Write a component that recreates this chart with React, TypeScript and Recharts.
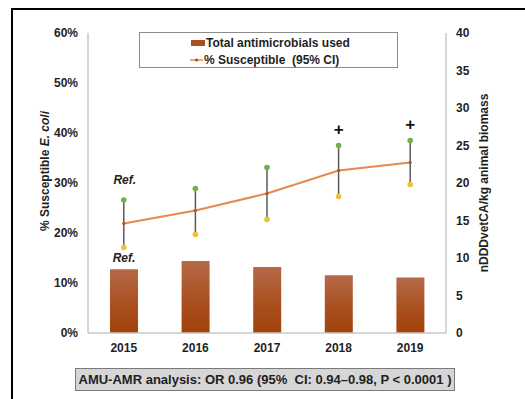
import React from "react";
import {
  ComposedChart,
  Bar,
  Line,
  XAxis,
  YAxis,
  ErrorBar,
  LabelList,
  Legend,
} from "recharts";

const years = ["2015", "2016", "2017", "2018", "2019"];
const amuUse = [8.5, 9.6, 8.8, 7.7, 7.4];
const pctSusceptible = [21.9, 24.5, 27.9, 32.5, 34.1];
const ciUpper = [26.6, 28.9, 33.1, 37.5, 38.5];
const ciLower = [17.1, 19.7, 22.7, 27.3, 29.7];
const ciNotes = ["Ref.", "", "", "+", "+"];
const barNotes = ["Ref.", "", "", "", ""];
const pctTicks = [0, 10, 20, 30, 40, 50, 60];
const amuTicks = [0, 5, 10, 15, 20, 25, 30, 35, 40];

const data = years.map((year, i) => ({
  year,
  amu: amuUse[i],
  pct: pctSusceptible[i],
  upper: ciUpper[i],
  lower: ciLower[i],
  ci: [pctSusceptible[i] - ciLower[i], ciUpper[i] - pctSusceptible[i]],
  ciNote: ciNotes[i],
  barNote: barNotes[i],
}));

const FONT = '"Liberation Sans", Arial, sans-serif';
const AXIS_GREY = "#c9c9c9";
const TEXT = "#1f1f1f";

const tickStyle = { fontSize: 12, fontWeight: 700, fill: TEXT, fontFamily: FONT };

const CiNote = (props: any) => {
  const { x, y, value } = props;
  if (!value) return null;
  if (value === "+") {
    return (
      <text x={x} y={y - 16} textAnchor="middle" dominantBaseline="central"
        fontSize={17} fontWeight={700} fill="#111" fontFamily={FONT}>
        +
      </text>
    );
  }
  return (
    <text x={x + 1} y={y - 20} textAnchor="middle" dominantBaseline="central"
      fontSize={12} fontWeight={700} fontStyle="italic" fill="#222" fontFamily={FONT}>
      {value}
    </text>
  );
};

const BarNote = (props: any) => {
  const { x, y, width, value } = props;
  if (!value) return null;
  return (
    <text x={x + width / 2} y={y - 11} textAnchor="middle" dominantBaseline="central"
      fontSize={12} fontWeight={700} fontStyle="italic" fill="#222" fontFamily={FONT}>
      {value}
    </text>
  );
};

const LeftLabel = (props: any) => {
  const { viewBox } = props;
  const cx = viewBox.x + 45;
  const cy = viewBox.y + viewBox.height / 2 - 12;
  return (
    <text x={cx} y={cy} transform={`rotate(-90 ${cx} ${cy})`} textAnchor="middle"
      dominantBaseline="central" fontSize={12} fontWeight={700} fill={TEXT} fontFamily={FONT}>
      % Susceptible <tspan fontStyle="italic">E. coli</tspan>
    </text>
  );
};

const RightLabel = (props: any) => {
  const { viewBox } = props;
  const cx = viewBox.x + 38;
  const cy = viewBox.y + viewBox.height / 2;
  return (
    <text x={cx} y={cy} transform={`rotate(-90 ${cx} ${cy})`} textAnchor="middle"
      dominantBaseline="central" fontSize={12} fontWeight={700} fill={TEXT} fontFamily={FONT}>
      nDDDvetCA/kg animal biomass
    </text>
  );
};

const LegendBox = () => (
  <div
    style={{
      width: 257,
      height: 34,
      border: "1px solid #8c8c8c",
      background: "#fff",
      fontFamily: FONT,
      fontSize: 12,
      fontWeight: 700,
      color: TEXT,
      position: "relative",
    }}
  >
    <div style={{ position: "absolute", left: 51, top: 2, display: "flex", alignItems: "center", height: 16 }}>
      <svg width={14} height={6} style={{ marginRight: 1 }}>
        <rect x={0} y={0} width={14} height={6} fill="#a9501f" />
      </svg>
      <span>Total antimicrobials used</span>
    </div>
    <div style={{ position: "absolute", left: 50, top: 19, display: "flex", alignItems: "center", height: 16 }}>
      <svg width={13} height={6} style={{ marginRight: 1 }}>
        <line x1={0} y1={3} x2={13} y2={3} stroke="#e58a4f" strokeWidth={1.5} />
        <circle cx={6.5} cy={3} r={1.5} fill="#b4501f" />
      </svg>
      <span style={{ whiteSpace: "pre" }}>% Susceptible  (95% CI)</span>
    </div>
  </div>
);

export default function App() {
  return (
    <div
      style={{
        position: "absolute",
        left: 0,
        top: 0,
        width: 525,
        height: 399,
        overflow: "hidden",
        background: "#fff",
      }}
    >
      <div
        style={{
          position: "absolute",
          left: 11,
          top: 8,
          width: 700,
          height: 600,
          border: "2px solid #000",
        }}
      />
      <div style={{ position: "absolute", left: 0, top: 0 }}>
        <ComposedChart
          width={525}
          height={399}
          data={data}
          margin={{ top: 33, right: 29, bottom: 36, left: 0 }}
        >
          <defs>
            <linearGradient id="amuFill" x1="0" y1="0" x2="0" y2="1">
              <stop offset="0%" stopColor="#b56a48" />
              <stop offset="55%" stopColor="#a9501f" />
              <stop offset="100%" stopColor="#a3410a" />
            </linearGradient>
          </defs>
          <XAxis
            dataKey="year"
            axisLine={{ stroke: AXIS_GREY, strokeWidth: 1.5 }}
            tickLine={false}
            tickSize={6}
            tickMargin={4}
            height={30}
            tick={tickStyle}
          />
          <YAxis
            yAxisId="left"
            domain={[0, 60]}
            ticks={pctTicks}
            tickFormatter={(v) => `${v}%`}
            axisLine={{ stroke: AXIS_GREY, strokeWidth: 1.5 }}
            tickLine={false}
            tickSize={6}
            tickMargin={4}
            width={88}
            tick={tickStyle}
            label={<LeftLabel />}
          />
          <YAxis
            yAxisId="right"
            orientation="right"
            domain={[0, 40]}
            ticks={amuTicks}
            axisLine={{ stroke: AXIS_GREY, strokeWidth: 1.5 }}
            tickLine={false}
            tickSize={6}
            tickMargin={4}
            width={50}
            tick={{ ...tickStyle, textAnchor: "start" }}
            label={<RightLabel />}
          />
          <Legend
            verticalAlign="middle"
            align="center"
            content={<LegendBox />}
            wrapperStyle={{ left: 139, top: 32, width: 259, height: 36 }}
          />
          <Bar
            yAxisId="right"
            dataKey="amu"
            name="Total antimicrobials used"
            barSize={28}
            fill="url(#amuFill)"
            isAnimationActive={false}
          >
            <LabelList dataKey="barNote" content={<BarNote />} />
          </Bar>
          <Line
            yAxisId="left"
            dataKey="pct"
            stroke="none"
            dot={false}
            legendType="none"
            isAnimationActive={false}
          >
            <ErrorBar dataKey="ci" width={0} stroke="#5a5a5a" strokeWidth={1.5} direction="y" />
          </Line>
          <Line
            yAxisId="left"
            dataKey="pct"
            name="% Susceptible  (95% CI)"
            stroke="#e58a4f"
            strokeWidth={2}
            dot={{ r: 1.6, fill: "#b4501f", stroke: "none" }}
            isAnimationActive={false}
          />
          <Line
            yAxisId="left"
            dataKey="upper"
            stroke="none"
            dot={{ r: 2.8, fill: "#6fb04a", stroke: "none" }}
            legendType="none"
            isAnimationActive={false}
          >
            <LabelList dataKey="ciNote" content={<CiNote />} />
          </Line>
          <Line
            yAxisId="left"
            dataKey="lower"
            stroke="none"
            dot={{ r: 2.8, fill: "#f2c12e", stroke: "none" }}
            legendType="none"
            isAnimationActive={false}
          />
        </ComposedChart>
      </div>
      <div
        style={{
          position: "absolute",
          left: 75,
          top: 368,
          width: 378,
          height: 21,
          background: "#d6d6d6",
          border: "1px solid #7a7a7a",
          fontFamily: FONT,
          fontSize: 13,
          fontWeight: 700,
          color: TEXT,
          display: "flex",
          alignItems: "center",
          justifyContent: "center",
          whiteSpace: "pre",
        }}
      >
        AMU-AMR analysis: OR 0.96 (95%  CI: 0.94–0.98, P {"<"} 0.0001 )
      </div>
    </div>
  );
}
